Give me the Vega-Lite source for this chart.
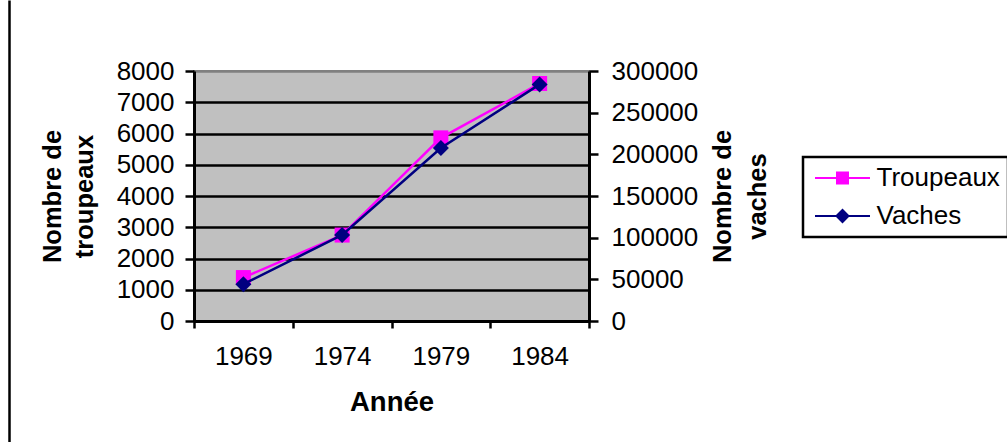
{
  "$schema": "https://vega.github.io/schema/vega-lite/v6.json",
  "width": 395,
  "height": 250,
  "autosize": {"type": "none"},
  "padding": {"left": 194, "top": 71, "right": 418, "bottom": 121},
  "background": "white",
  "config": {
    "font": "Liberation Sans",
    "view": {"fill": "#C0C0C0", "stroke": "#808080", "strokeWidth": 2},
    "axis": {
      "labelFont": "Liberation Sans",
      "labelFontSize": 26,
      "labelColor": "black",
      "titleFont": "Liberation Sans",
      "titleFontSize": 25.5,
      "titleFontWeight": "bold",
      "titleColor": "black",
      "titleLineHeight": 33,
      "domainColor": "black",
      "domainWidth": 3,
      "tickColor": "black",
      "tickWidth": 2.5,
      "gridWidth": 2.5
    }
  },
  "data": {
    "values": [
      {"annee": "1969", "troupeaux": 1390, "vaches": 44200},
      {"annee": "1974", "troupeaux": 2750, "vaches": 103300},
      {"annee": "1979", "troupeaux": 5860, "vaches": 207600},
      {"annee": "1984", "troupeaux": 7600, "vaches": 283900}
    ]
  },
  "encoding": {
    "x": {
      "field": "annee",
      "type": "ordinal",
      "bandPosition": 0.5,
      "scale": {"type": "band", "paddingInner": 0, "paddingOuter": 0},
      "axis": {
        "title": "Année",
        "titleFontSize": 27.5,
        "labelAngle": 0,
        "tickBand": "extent",
        "tickSize": 7,
        "labelPadding": 15,
        "titlePadding": 19,
        "grid": false,
        "encode": {"ticks": {"update": {"y": {"value": -8}}}}
      }
    }
  },
  "layer": [
    {
      "encoding": {
        "y": {
          "field": "troupeaux",
          "type": "quantitative",
          "scale": {"domain": [0, 8000], "nice": false},
          "axis": {
            "orient": "left",
            "values": [0, 1000, 2000, 3000, 4000, 5000, 6000, 7000, 8000],
            "format": "d",
            "title": ["Nombre de", "troupeaux"],
            "titleLineHeight": 32,
            "grid": true,
            "gridColor": {"condition": {"test": "datum.value === 8000", "value": "#808080"}, "value": "black"},
            "gridWidth": 2.5,
            "tickSize": 9,
            "labelPadding": 11,
            "titlePadding": 19,
            "encode": {"ticks": {"update": {"x": {"value": 6}}}}
          }
        },
        "color": {
          "datum": "Troupeaux",
          "type": "nominal",
          "scale": {"domain": ["Troupeaux", "Vaches"], "range": ["#FF00FF", "#000080"]},
          "legend": {
            "title": null,
            "orient": "none",
            "legendX": 609,
            "legendY": 86,
            "fillColor": "white",
            "strokeColor": "black",
            "padding": 8,
            "rowPadding": 12,
            "labelFont": "Liberation Sans",
            "labelFontSize": 26,
            "labelColor": "black",
            "labelOffset": 21,
            "symbolSize": 400,
            "symbolOffset": 18.5,
            "symbolStrokeWidth": 2,
            "symbolOpacity": 1,
            "encode": {
              "legend": {"update": {"strokeWidth": {"value": 2.5}}},
              "symbols": {
                "update": {
                  "shape": {"signal": "datum.value === 'Troupeaux' ? 'M-2.75,0H2.75M-0.55,-0.55H0.55V0.55H-0.55Z' : 'M-2.75,0H2.75M-0.6,0L0,-0.6L0.6,0L0,0.6Z'"},
                  "fill": {"signal": "datum.value === 'Troupeaux' ? '#FF00FF' : '#000080'"},
                  "stroke": {"signal": "datum.value === 'Troupeaux' ? '#FF00FF' : '#000080'"},
                  "strokeWidth": {"value": 2},
                  "opacity": {"value": 1}
                }
              }
            }
          }
        }
      },
      "layer": [
        {"mark": {"type": "line", "strokeWidth": 2.5}},
        {"mark": {"type": "point", "shape": "square", "filled": true, "size": 225, "opacity": 1}}
      ]
    },
    {
      "encoding": {
        "y": {
          "field": "vaches",
          "type": "quantitative",
          "scale": {"domain": [0, 300000], "nice": false},
          "axis": {
            "orient": "right",
            "values": [0, 50000, 100000, 150000, 200000, 250000, 300000],
            "format": "d",
            "title": ["Nombre de", "vaches"],
            "titleLineHeight": 35,
            "titleAngle": 270,
            "titleBaseline": "top",
            "grid": false,
            "tickSize": 9,
            "labelPadding": 13,
            "titlePadding": -22,
            "encode": {"ticks": {"update": {"x": {"value": -9}}}}
          }
        },
        "color": {"datum": "Vaches", "type": "nominal"}
      },
      "layer": [
        {"mark": {"type": "line", "strokeWidth": 2.5}},
        {"mark": {"type": "point", "shape": "diamond", "filled": true, "size": 256, "opacity": 1}}
      ]
    },
    {
      "mark": {"type": "point", "opacity": 0},
      "encoding": {
        "y": {
          "field": "troupeaux",
          "type": "quantitative",
          "scale": {"domain": [0, 1], "range": [371, -71]},
          "axis": {"orient": "left", "offset": 185, "ticks": false, "labels": false, "title": null, "grid": false, "domainWidth": 2.5}
        }
      }
    }
  ],
  "resolve": {"scale": {"y": "independent"}}
}
